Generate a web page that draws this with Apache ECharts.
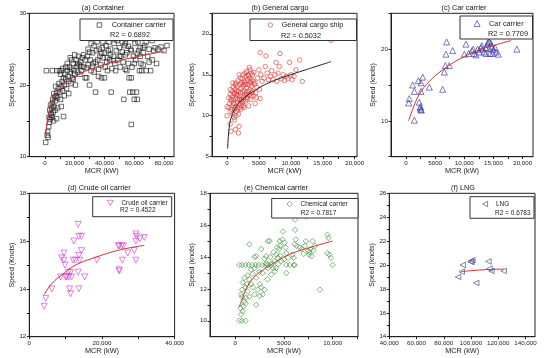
<!DOCTYPE html>
<html>
<head>
<meta charset="utf-8">
<script src="https://cdn.jsdelivr.net/npm/echarts@6/dist/echarts.min.js"></script>
<style>html,body{margin:0;padding:0;background:#fff}#c{width:550px;height:358px}</style>
</head>
<body>
<div id="c"></div>
<script>
// ---------- DATA ----------
const panelTitles = ['(a) Container', '(b) General cargo', '(c) Car carrier', '(d) Crude oil carrier', '(e) Chemical carrier', '(f) LNG'];
const seriesNames = ['Container carrier', 'General cargo ship', 'Car carrier', 'Crude oil carrier', 'Chemical carrier', 'LNG'];
const r2Labels = ['R2 = 0.6892', 'R2 = 0.5032', 'R2 = 0.7709', 'R2 = 0.4522', 'R2 = 0.7817', 'R2 = 0.6783'];
const yNames = ['Speed (knots)', 'Speed (knots)', 'Speed (knots)', 'Speed (Knots)', 'Speed (knots)', 'Speed (knots)'];

const containerData = [
[500,12.0],[1500,13.0],[2200,12.7],[1800,13.5],[2500,14.2],[3000,14.8],[2800,15.5],[3500,15.2],[4000,16.0],[3200,16.5],[4500,16.8],[3800,17.2],[5000,17.5],[4200,15.8],[5500,16.2],[6000,17.0],[5200,18.0],[6500,18.3],[6000,18.8],[7000,17.8],[7500,18.5],[5800,15.0],[6800,16.5],[8000,19.0],[8500,18.2],[9000,19.5],[7200,19.8],[9500,20.2],[10000,19.0],[4800,15.5],[7800,15.3],[8500,16.8],[1000,22],[5000,22],[8000,22],[9800,22],[10500,21.5],[12500,15.6],[11000,17.0],
[11000,19.8],[11500,20.5],[12000,19.2],[12500,21.0],[13000,20.0],[13500,21.5],[14000,20.8],[14500,19.5],[15000,22.0],[15500,21.2],[16000,20.5],[16500,22.5],[17000,21.8],[17500,20.2],[18000,22.2],[18500,21.0],[19000,23.0],[19500,22.0],[20000,21.5],[20500,20.0],[21000,23.5],[21500,22.6],[22000,21.8],[22500,24.0],[23000,22.8],[23500,21.5],[24000,23.2],[24500,22.0],[25000,23.8],[12000,22.3],[14000,22.5],[16000,18.8],[13000,18.5],[10500,18.0],[18000,23.5],[20000,24.2],[15000,23.0],[11000,22.0],[19000,20.8],[17000,23.8],
[26000,22.5],[27000,23.5],[28000,21.0],[28500,24.0],[29000,22.8],[30000,20.0],[30500,23.5],[31000,22.0],[32000,24.5],[32500,23.0],[33000,21.8],[34000,19.0],[34500,24.8],[35000,26.0],[35500,23.5],[36000,22.2],[36500,25.0],[37000,24.0],[37500,22.8],[38000,21.0],[38500,25.2],[39000,23.8],[40000,24.5],[40500,22.5],[41000,25.5],[41500,23.2],[42000,22.0],[42500,24.8],[43000,26.0],[43500,23.5],[44000,25.0],[44500,19.0],[45000,22.3],[29000,25.0],[33000,25.5],[27000,21.0],[36000,21.2],[40000,21.0],[39000,26.0],[31000,25.8],
[46000,24.0],[46500,25.8],[47000,23.0],[47500,22.0],[48000,24.8],[48500,26.2],[49000,23.5],[50000,25.2],[50500,22.5],[51000,24.0],[52000,26.0],[52500,23.2],[53000,18.0],[53500,25.5],[54000,22.2],[55000,24.5],[55500,26.5],[56000,23.0],[56500,21.0],[57000,19.0],[57500,25.0],[58000,14.5],[58500,22.5],[59000,19.0],[59500,24.0],[60000,18.0],[60500,25.8],[61000,23.5],[61500,19.0],[62000,18.0],[62500,26.0],[63000,24.8],[63500,22.0],[64000,25.2],[64500,23.0],[65000,22.0],[55000,22.0],[50000,26.8],[58000,21.0],[47000,26.5],[60000,26.5],[54000,25.8],
[66000,24.5],[67000,25.5],[68000,22.0],[69000,24.0],[70000,25.0],[71000,22.0],[72000,23.5],[73000,24.8],[74000,25.2],[75000,23.0],[76000,25.0],[78000,25.3],[80000,24.8],[82000,25.5],[68000,26.0],[70000,23.2],[72000,26.2],[66000,22.8],
[22000,23.0],[26000,24.2],[30000,24.6],[34000,23.2],[38000,24.4],[42000,23.8],[46000,23.4],[50000,24.0],[54000,24.2],[58000,24.8],[62000,24.4],[66000,25.2],[24000,22.6],[28000,22.4],[32000,22.6],[44000,24.2],[52000,24.6],[56000,25.4],[60000,23.0],[64000,24.0]
];
const containerFit = [[700,12.8],[1500,14.7],[2900,16.3],[5000,17.7],[9500,19.3],[16000,20.6],[25000,21.7],[36000,22.6],[50000,23.4],[63000,24.0],[80000,24.7]];

const cargoData = [
[0,11.1],[0,10.0],[500,9.0],[600,8.1],[1300,8.3],[1800,7.9],[1900,8.7],[300,12.2],[400,11.5],[500,12.6],[600,10.5],[700,11.8],[800,12.3],[800,13.0],[900,10.2],[900,11.2],[1000,12.0],[1000,13.5],[1100,9.8],[1100,11.5],[1200,12.8],[1200,10.8],[1300,13.2],[1300,11.0],[1400,12.2],[1400,14.0],[1500,10.5],[1500,12.6],[1600,13.6],[1600,11.6],[1700,12.0],[1700,14.3],[1800,10.2],[1800,13.0],[1900,11.4],[1900,12.4],[2000,13.8],[2000,11.0],[2100,12.8],[2100,14.6],[2200,10.8],[2200,13.3],[2300,12.0],[2300,14.0],[2400,11.6],[2400,12.9],[2500,13.6],[2500,15.0],[2600,12.2],[2600,11.2],[2700,14.2],[2700,13.0],[2800,12.5],[2800,15.2],[2900,13.8],[2900,11.8],[3000,14.8],[3000,12.8],[3100,13.4],[3100,15.4],[3200,12.0],[3200,14.4],[3300,13.0],[3300,15.0],[3400,13.8],[3400,11.2],[3500,14.6],[3500,12.6],[3600,15.6],[3600,13.2],[3700,14.0],[3700,12.0],[3800,15.2],[3800,13.6],[3900,14.4],[3900,12.8],[4000,15.0],[4000,13.0],[4100,14.2],[4200,12.4],[4300,13.8],[4400,11.5],[4500,12.8],[4600,13.5],[4800,14.6],[5000,15.6],[5100,13.2],[5200,12.1],[5200,17.7],[5300,15.0],[5500,14.2],[5800,14.6],[6000,16.0],[6100,17.3],[6300,15.2],[6500,14.4],[6800,14.8],[7000,15.5],[7200,14.4],[7500,15.0],[7700,16.5],[7800,14.2],[8000,15.2],[8200,16.0],[8300,17.6],[8500,14.5],[8800,15.0],[9000,14.3],[9300,14.8],[9500,14.5],[9800,16.5],[10000,15.0],[10200,14.4],[10500,14.8],[10800,15.6],[11400,16.8],[11800,14.2],[16300,19.2],
[1000,11.5],[1200,9.5],[1400,10.0],[1600,12.5],[2000,12.0],[2200,11.8],[2600,13.8],[2800,14.0],[3000,12.2],[3400,14.9],[3600,14.2],[1500,13.0],[700,10.8],[2400,14.5],[1900,15.0],[2700,11.0],[3800,12.4],[1100,12.7],[4200,15.3],[4400,14.0],[300,11.0],[600,12.0],[2300,11.2],[3100,12.6],[1300,13.8],[500,13.2],[1700,10.8],[2500,11.8],[900,14.0],[3500,15.9],[4600,12.2]
];
const cargoFit = [[100,6.0],[400,8.9],[900,10.3],[1700,11.4],[2700,12.2],[4200,13.0],[6200,13.9],[8800,14.7],[12300,15.6],[16300,16.6]];

const carData = [
[460,12.5],[570,13.1],[1430,10.1],[1140,15.0],[1430,14.1],[2110,15.6],[2570,15.3],[2860,16.1],[2280,12.6],[2400,11.8],[2570,11.6],[2500,12.0],[2600,11.5],[2570,14.1],[4000,14.7],[6280,14.4],[6570,16.8],[6740,17.7],[7420,17.7],[6970,21.0],[6850,19.3],[8000,19.8],[10000,19.3],[10280,20.7],[10740,19.4],[11300,19.8],[11530,20.0],[11700,19.4],[12280,20.0],[12560,19.6],[12850,20.2],[13130,20.0],[13400,19.6],[13700,20.2],[13990,20.8],[14160,21.1],[14280,20.1],[14390,19.4],[14730,20.4],[14960,19.9],[15300,20.2],[15420,19.6],[15820,19.3],[19000,20.0],[14280,21.0],[13700,19.4],[14560,20.8],[14850,19.4],[12000,19.2],[13000,20.5]
];
const carFit = [[460,10.0],[1140,11.6],[2280,13.7],[4000,15.5],[6280,17.1],[9140,18.6],[12560,19.9],[15400,20.6],[18000,21.2]];

const crudeData = [
[4090,13.27],[4550,13.6],[6180,14.0],[8640,14.5],[8910,15.3],[9540,15.5],[9540,15.2],[9820,15.0],[10000,14.5],[10300,14.5],[10900,14.5],[10730,14.7],[11360,14.7],[11090,14.0],[11360,13.8],[11640,14.5],[12090,15.2],[12270,16.0],[12730,15.2],[13450,16.7],[13640,16.2],[13820,15.2],[13640,15.4],[13450,14.7],[13640,14.0],[14360,16.2],[14360,15.6],[15270,14.5],[18640,15.2],[24550,15.8],[24700,14.8],[24800,14.75],[25450,15.8],[25910,15.8],[25640,15.2],[27090,15.5],[28900,15.6],[29360,16.3],[29550,16.2],[29360,16.0],[29360,15.2],[30450,16.1],[31640,16.15],[24700,15.8]
];
const crudeFit = [[4090,13.76],[6360,14.25],[9090,14.6],[12730,15.0],[17270,15.27],[21800,15.5],[26360,15.68],[31640,15.82]];

const chemData = [
[410,10.0],[690,10.0],[1040,10.0],[590,10.4],[760,10.6],[520,10.8],[830,10.9],[1040,11.1],[690,11.5],[1100,11.45],[590,11.65],[1450,11.5],[2140,11.0],[690,11.95],[1040,12.1],[1280,11.85],[1620,12.3],[1790,12.1],[2310,11.95],[2660,12.1],[2830,11.65],[3000,11.95],[2480,11.55],[1970,11.65],[760,12.4],[930,12.7],[1280,12.85],[1450,12.6],[1790,12.95],[2140,12.7],[2480,13.07],[1620,13.2],[1970,13.3],
[410,13.5],[690,13.5],[1040,13.5],[1380,13.5],[1720,13.5],[2070,13.5],[2410,13.5],[2760,13.5],[3100,13.5],[3350,13.5],[3690,13.5],[5240,13.5],[5590,13.5],[6000,13.5],[6100,13.5],
[1450,14.8],[1970,14.0],[2140,14.05],[2660,14.5],[3000,13.9],[3170,14.05],[3350,15.0],[3520,15.0],[3690,13.6],[3860,13.3],[4040,13.75],[4210,14.15],[4380,13.95],[4490,14.5],[4550,15.0],[4620,14.7],[4830,15.1],[4900,15.6],[5070,14.9],[5170,14.6],[5240,14.25],[5420,13.95],[4970,13.85],[4730,13.75],[4380,13.55],[4040,13.1],[3690,12.9],[3350,13.3],[3170,13.6],[5240,13.0],
[5870,14.15],[6000,13.95],[6100,14.8],[6210,15.1],[6140,15.7],[6140,16.35],[6280,14.7],[6620,14.6],[6800,14.5],[7140,14.7],[7250,15.0],[7310,16.55],[7490,14.4],[7590,14.15],[7730,14.5],[7830,14.05],[7940,15.0],[8000,14.4],[8180,14.7],[8690,11.95],[9450,15.4],[9560,15.2],[9450,14.25],[9660,14.15],[9800,13.95],[10000,13.5],
[2800,13.0],[3300,12.6],[4200,13.3],[4600,14.1],[3900,14.3],[2500,12.3],[1200,12.3],[900,11.2],[4300,14.6],[7600,14.3],[7000,14.2],[3600,14.0]
];
const chemFit = [[410,10.86],[760,11.45],[1280,12.2],[2140,12.87],[3170,13.32],[4550,13.85],[5930,14.26],[7310,14.53],[8690,14.78],[10000,15.0]];

const lngData = [[90500,19.0],[93200,19.44],[93900,20.0],[99600,20.3],[101000,20.4],[100300,20.25],[103800,18.5],[112800,20.3],[113600,19.7],[115000,19.5],[124000,19.5]];
const lngFit = [[93000,19.45],[103000,19.55],[113000,19.62],[124000,19.66]];

// tick arrays
const xTickLabels = [
  [0,20000,40000,60000,80000],
  [0,5000,10000,15000,20000],
  [0,5000,10000,15000,20000],
  [0,20000,40000],
  [0,5000,10000],
  [40000,60000,80000,100000,120000,140000]
];
const xTicks = [
  [0,10000,20000,30000,40000,50000,60000,70000,80000],
  [0,2500,5000,7500,10000,12500,15000,17500,20000],
  [0,2500,5000,7500,10000,12500,15000,17500,20000],
  [0,10000,20000,30000,40000],
  [0,2500,5000,7500,10000,12500],
  [40000,60000,80000,100000,120000,140000]
];
const yTickLabels = [[10,20,30],[5,10,15,20],[10,20],[12,14,16,18],[10,12,14,16,18],[14,16,18,20,22,24,26]];
const yTicks = [[10,15,20,25,30],[5,7.5,10,12.5,15,17.5,20,22.5],[5,10,15,20,25],[12,13,14,15,16,17,18],[10,11,12,13,14,15,16,17,18],[14,15,16,17,18,19,20,21,22,23,24,25,26]];

// ---------- LAYOUT / STYLE ----------
const FONT = 'Liberation Sans';
const grids = [
  {left:29.3, top:13.3, width:144.7, height:143.4},
  {left:212,  top:13.3, width:145,   height:143.4},
  {left:391,  top:13.3, width:142,   height:143.4},
  {left:29.3, top:193.3, width:145.3, height:143.4},
  {left:210,  top:193.3, width:148,   height:143.4},
  {left:389.3,top:193.3, width:145.7, height:143.4}
];
const xRanges = [[-10500,86700],[-2350,20360],[-2570,21770],[0,40000],[-2600,12600],[40000,147000]];
const yRanges = [[10,30],[5,22.5],[5,25],[12,18],[9,18],[14,26]];
const xNameGap = [11, 11, 11, 10, 10, 10];
const yNameGap = [13.5, 16.5, 14.5, 13, 14.5, 14];
const titlePos = [[103,4],[280,4],[464,4],[99.3,184],[276,184],[463,184]];
const fontTop = 7.3, fontBot = 6.5;

const markColors = ['#1a1a1a','#e03a3a','#2f2f9e','#d23cd2','#3a923a','#3a3a8c'];
const fitColors = ['#d23232','#222222','#d23232','#d23232','#d23232','#d23232'];
const symbols = ['rect','circle','triangle','triangle','diamond','triangle'];
const symRot = [0,0,0,180,0,90];
const legendIcons = ['rect','circle','triangle','path://M0,0L10,0L5,9Z','diamond','path://M9,0L9,10L0,5Z'];
const symSizes = [4.5,4.5,6,6,5.5,5.5];
const dataSets = [containerData, cargoData, carData, crudeData, chemData, lngData];
const fitSets = [containerFit, cargoFit, carFit, crudeFit, chemFit, lngFit];

// legend boxes (rect), legend symbol centre, R2 text position
const legBox = [[80,19,93,21.5],[250,19,106.5,21.5],[460,16,72.5,23],[92.7,196.7,79,20],[271.7,198.5,86.3,19.5],[470,196.7,64,21.6]];
const legSym = [[99,25],[270,25],[476.7,23.5],[110,203],[289.3,204],[485,204]];
const r2Pos = [[110,34.5],[281,35.5],[488,34],[120,210],[300.7,212.8],[495,212.8]];
const legTextPad = [5,4,4,3,3,3];

function fmt(v){
  if (v === 0) return '0';
  if (Math.abs(v) < 10000) return String(v);
  return String(v).replace(/\B(?=(\d{3})+(?!\d))/g, ',');
}

const option = {
  animation:false,
  backgroundColor:'#fff',
  title:[], grid:[], xAxis:[], yAxis:[], series:[], legend:[], graphic:[]
};

for (let i=0;i<6;i++){
  const fs = i<3 ? fontTop : fontBot;
  const s = symSizes[i];
  const mStyle = {color:'rgba(255,255,255,0)', borderColor:markColors[i], borderWidth:0.8};
  option.title.push({text:panelTitles[i], left:titlePos[i][0], top:titlePos[i][1], textAlign:'center', padding:0,
    textStyle:{fontSize:7.3, fontWeight:'normal', fontFamily:FONT, color:'#111'}});
  option.grid.push(Object.assign({show:true, borderColor:'#222', borderWidth:1, backgroundColor:'transparent', containLabel:false, outerBoundsMode:'none'}, grids[i]));
  option.xAxis.push({type:'value', gridIndex:i, min:xRanges[i][0], max:xRanges[i][1],
    name:'MCR (kW)', nameLocation:'middle', nameGap:xNameGap[i],
    nameTextStyle:{fontSize:7.3, fontFamily:FONT, color:'#222'},
    axisLine:{show:true, onZero:false, lineStyle:{color:'#222', width:1}},
    axisTick:{show:true, customValues:xTicks[i], length:2.5, lineStyle:{color:'#222'}},
    axisLabel:{customValues:xTickLabels[i], formatter:fmt, margin:3.5, fontSize:6.2, fontFamily:FONT, color:'#222', showMinLabel:true, showMaxLabel:true, hideOverlap:false},
    splitLine:{show:false}});
  option.yAxis.push({type:'value', gridIndex:i, min:yRanges[i][0], max:yRanges[i][1],
    name:yNames[i], nameLocation:'middle', nameGap:yNameGap[i],
    nameTextStyle:{fontSize:7, fontFamily:FONT, color:'#222'},
    axisLine:{show:true, onZero:false, lineStyle:{color:'#222', width:1}},
    axisTick:{show:true, customValues:yTicks[i], length:2.5, lineStyle:{color:'#222'}},
    axisLabel:{customValues:yTickLabels[i], margin:3, fontSize:6.2, fontFamily:FONT, color:'#222', showMinLabel:true, showMaxLabel:true},
    splitLine:{show:false}});
  option.series.push({type:'scatter', name:seriesNames[i], xAxisIndex:i, yAxisIndex:i, data:dataSets[i],
    symbol:symbols[i], symbolSize:s, symbolRotate:symRot[i], z:3,
    itemStyle:mStyle});
  option.series.push({type:'line', name:'fit'+i, xAxisIndex:i, yAxisIndex:i, data:fitSets[i],
    showSymbol:false, symbol:'none', smooth:0.4, z:4, silent:true,
    lineStyle:{color:fitColors[i], width:1}});
  option.legend.push({data:[{name:seriesNames[i], icon:legendIcons[i]}], left:legSym[i][0]-s/2, top:legSym[i][1]-5, orient:'vertical',
    itemWidth:s, itemHeight:s, padding:0, itemGap:0, z:12, selectedMode:false, symbolRotate:0,
    itemStyle:{color:'rgba(255,255,255,0)', borderColor:markColors[i], borderWidth:0.8},
    textStyle:{fontSize:fs, fontFamily:FONT, color:'#222', lineHeight:10, padding:[0,0,0,legTextPad[i]]}});
  const b = legBox[i];
  option.graphic.push({type:'rect', shape:{x:b[0], y:b[1], width:b[2], height:b[3]}, z:10,
    style:{fill:'#fff', stroke:'#333', lineWidth:1}});
  option.graphic.push({type:'text', x:r2Pos[i][0], y:r2Pos[i][1], z:12,
    style:{text:r2Labels[i], fontSize:fs, fontFamily:FONT, fill:'#222', verticalAlign:'middle', align:'left'}});
}

const chart = echarts.init(document.getElementById('c'), null, {renderer:'canvas'});
chart.setOption(option);
</script>
</body>
</html>
